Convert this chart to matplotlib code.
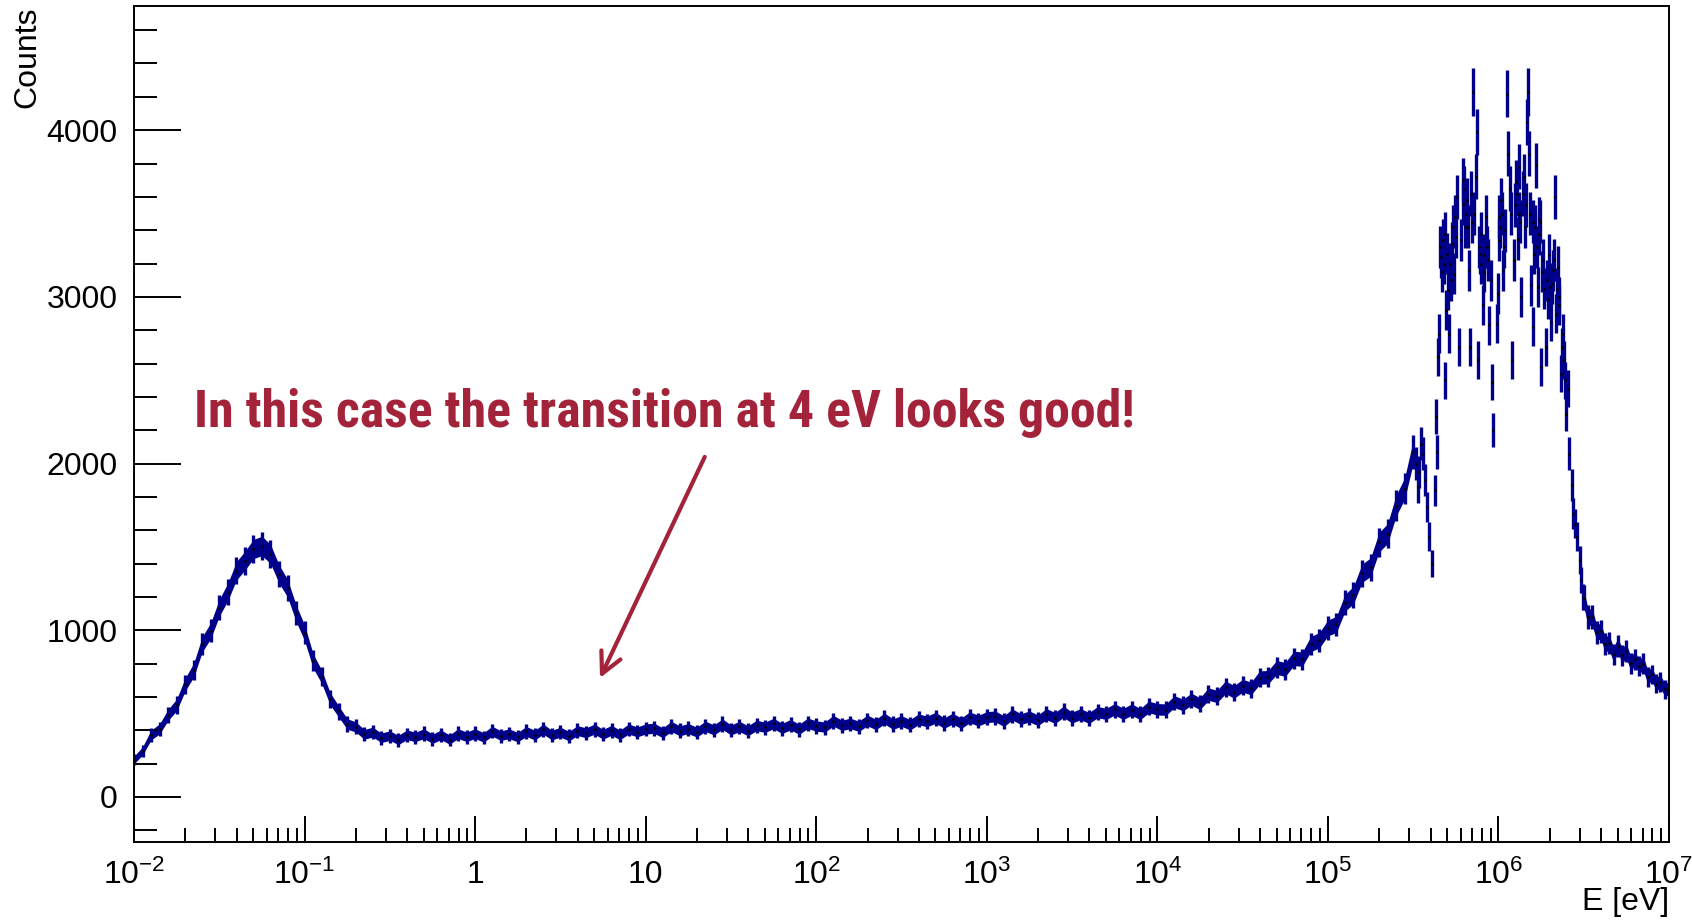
import numpy as np
import matplotlib.pyplot as plt
from matplotlib import font_manager as fm
from matplotlib.ticker import FixedLocator, FixedFormatter, LogLocator, NullFormatter, MultipleLocator

plt.rcParams['font.family'] = ['Liberation Sans', 'DejaVu Sans']
plt.rcParams['mathtext.fontset'] = 'custom'
plt.rcParams['mathtext.rm'] = 'Liberation Sans'
plt.rcParams['mathtext.it'] = 'Liberation Sans:italic'

# histogram bins: log10(E / eV) and counts
log_e_low = np.linspace(-2.0, 5.5, 151)
counts_low = [
    222, 276, 372, 408, 493, 552, 675, 761, 916, 998, 1135, 1230, 1356, 1417, 1487, 1506,
    1458, 1338, 1253, 1103, 985, 816, 722, 589, 513, 438, 420, 376, 389, 355, 368,
    342, 373, 360, 380, 349, 373, 344, 380, 361, 380,
    357, 395, 368, 379, 359, 393, 371, 407, 371, 389, 365, 398, 385, 407, 376, 400, 372, 408, 390, 408,
    412, 385, 423, 397, 410, 389, 424, 402, 437, 402, 423, 397, 429, 418, 441, 411, 434, 406, 442, 426,
    419, 457, 430, 441, 424, 459, 435, 471, 437, 456, 433, 466, 453, 475, 443, 470, 442, 478, 458, 479,
    483, 455, 495, 467, 483, 460, 497, 474, 511, 476, 497, 474, 509, 498, 526, 498, 524, 497, 540, 526,
    524, 572, 552, 586, 560, 617, 603, 658, 630, 667, 651, 716, 719, 777, 765, 831, 827, 918, 940, 1014,
    1035, 1164, 1211, 1342, 1378, 1528, 1580, 1748, 1850, 2070,
]

log_e_peak = [
    5.515, 5.527, 5.535, 5.545, 5.557, 5.568, 5.579, 5.594, 5.608, 5.626, 5.635, 5.640,
    5.644, 5.654, 5.659, 5.664, 5.669, 5.674, 5.680, 5.684, 5.689, 5.693, 5.698, 5.703,
    5.713, 5.718, 5.723, 5.728, 5.733, 5.742, 5.747, 5.752, 5.757, 5.771, 5.781, 5.790,
    5.795, 5.801, 5.806, 5.811, 5.816, 5.821, 5.830, 5.834, 5.840, 5.845, 5.850, 5.859,
    5.868, 5.873, 5.879, 5.884, 5.889, 5.895, 5.900, 5.908, 5.913, 5.918, 5.928, 5.933,
    5.938, 5.947, 5.955, 5.963, 5.971, 5.990, 5.998, 6.001, 6.006, 6.011, 6.016, 6.020,
    6.025, 6.030, 6.038, 6.049, 6.055, 6.065, 6.072, 6.080, 6.094, 6.099, 6.104, 6.108,
    6.113, 6.118, 6.123, 6.128, 6.133, 6.143, 6.148, 6.153, 6.160, 6.166, 6.172, 6.182,
    6.187, 6.192, 6.201, 6.205, 6.211, 6.216, 6.221, 6.226, 6.231, 6.236, 6.240, 6.245,
    6.250, 6.255, 6.260, 6.268, 6.276, 6.282, 6.289, 6.296, 6.303, 6.310, 6.315, 6.319,
    6.325, 6.334, 6.338, 6.343, 6.348, 6.353, 6.358, 6.367, 6.372, 6.377, 6.386, 6.392,
    6.397, 6.405, 6.416, 6.429, 6.440, 6.447, 6.460, 6.476, 6.485, 6.494,
]
counts_peak = [
    2000, 1860, 1950, 2120, 2060, 1900, 1740, 1560, 1400, 1840, 2280, 2070,
    2640, 2780, 3300, 3240, 3150, 3340, 3200, 3380, 2500, 2920, 3260, 3040,
    2780, 3200, 3100, 3320, 3420, 3140, 3480, 3360, 3600, 2700, 3340, 3560,
    3700, 3650, 3420, 3500, 3580, 3420, 3160, 2700, 3620, 3450, 4230, 3500,
    3720, 3990, 2620, 3300, 3260, 3380, 3200, 2950, 3150, 3250, 3480, 3300,
    3220, 2830, 3100, 2490, 2200, 2840, 3020, 3480, 3340, 3420, 3580, 3500,
    3160, 3300, 3400, 4220, 3860, 3650, 3500, 2620, 3220, 3550, 3690, 3620,
    3350, 3780, 3500, 3450, 3000, 3620, 3720, 3420, 3550, 4050, 4230, 3860,
    3500, 3070, 2820, 3450, 3260, 3420, 3790, 3300, 3060, 3380, 3470, 3450,
    2580, 3150, 3220, 3050, 2700, 3100, 2990, 3250, 3060, 2850, 3080, 3160,
    3220, 3600, 2900, 3050, 3180, 2950, 3000, 2540, 2700, 2780, 2620, 2500,
    2300, 2450, 2060, 1870, 1700, 1640, 1560, 1420, 1300, 1200,
]

log_e_tail = [6.500, 6.525, 6.550, 6.575, 6.600, 6.625, 6.650, 6.675, 6.700, 6.725, 6.750,
              6.775, 6.800, 6.825, 6.850, 6.875, 6.900, 6.925, 6.950, 6.975, 7.000]
counts_tail = [1195, 1080, 1078, 988, 995, 918, 923, 855, 908, 850, 875,
               803, 827, 785, 800, 720, 735, 680, 690, 645, 650]

x_ticks = [1e-2, 1e-1, 1, 10, 1e2, 1e3, 1e4, 1e5, 1e6, 1e7]
x_labels = ['$10^{-2}$', '$10^{-1}$', '1', '10', '$10^{2}$', '$10^{3}$',
            '$10^{4}$', '$10^{5}$', '$10^{6}$', '$10^{7}$']
y_ticks = [0, 1000, 2000, 3000, 4000]

note = 'In this case the transition at 4 eV looks good!'
note_pos = (0.0225, 2220)
arrow_tail = (22.2, 2040)
arrow_tip = (5.4, 714)

navy = '#00008b'
wine = '#a3233a'


def narrow_bold_font():
    # the note is set in a narrow bold sans; take the first one installed
    def is_bold(f):
        w = f.weight
        if isinstance(w, str):
            w = fm.weight_dict.get(w, 400)
        return w >= 600

    wanted = ['liberation sans narrow', 'arial narrow', 'roboto condensed',
              'open sans condensed', 'noto sans condensed', 'dejavu sans condensed']
    cands = []
    for f in fm.fontManager.ttflist:
        name = f.name.lower()
        narrow = 'narrow' in name or 'condensed' in name or 'condensed' in str(f.stretch)
        if narrow and is_bold(f) and f.style == 'normal':
            rank = next((i for i, w in enumerate(wanted) if w in name), len(wanted))
            cands.append((rank, f.fname))
    if cands:
        return fm.FontProperties(fname=sorted(cands)[0][1])
    return fm.FontProperties(family='Liberation Sans', weight='bold')


fig = plt.figure(figsize=(16.92, 9.21), dpi=100)
ax = fig.add_axes([0.0792, 0.0858, 0.9072, 0.9077])

segments = [(log_e_low, counts_low, True), (log_e_peak, counts_peak, False), (log_e_tail, counts_tail, True)]
for log_e, counts, solid in segments:
    e = 10 ** np.asarray(log_e)
    n = np.asarray(counts, dtype=float)
    err = 2 * np.sqrt(n)  # weighted entries: error bars about 2*sqrt(N)
    if solid:
        ax.fill_between(e, n - 0.75 * err, n + 0.75 * err, color=navy, lw=0)
    ax.errorbar(e, n, yerr=1.1 * err, fmt='none', ecolor=navy, elinewidth=2.4)
    ax.plot(e, n, ls='none', marker='.', ms=2, color='black')

ax.set_xscale('log')
ax.set_xlim(1e-2, 1e7)
ax.set_ylim(-270, 4745)

ax.xaxis.set_major_locator(FixedLocator(x_ticks))
ax.xaxis.set_major_formatter(FixedFormatter(x_labels))
ax.xaxis.set_minor_locator(LogLocator(base=10, subs=range(2, 10), numticks=100))
ax.xaxis.set_minor_formatter(NullFormatter())
ax.yaxis.set_major_locator(FixedLocator(y_ticks))
ax.yaxis.set_minor_locator(MultipleLocator(200))

ax.tick_params(axis='both', which='both', direction='in', width=1.4, labelsize=23, colors='black')
ax.tick_params(axis='y', which='major', length=34, pad=12)
ax.tick_params(axis='y', which='minor', length=16.5)
ax.tick_params(axis='x', which='major', length=19, pad=13)
ax.tick_params(axis='x', which='minor', length=10)
for sp in ax.spines.values():
    sp.set_linewidth(1.4)

fig.text(0.016, 0.993, 'Counts', rotation=90, ha='center', va='top', fontsize=23)
fig.text(0.9864, 0.021, 'E [eV]', ha='right', va='center', fontsize=23)

note_font = narrow_bold_font()
note_font.set_size(39)
txt = ax.text(note_pos[0], note_pos[1], note, color=wine, fontproperties=note_font,
              va='baseline', ha='left')
# the note spans about 940 px in the reference; shrink the size if the font runs wider
fig.canvas.draw()
w = txt.get_window_extent().width
if w > 960:
    note_font.set_size(39 * 940 / w)
    txt.set_fontproperties(note_font)

ax.annotate('', xy=arrow_tip, xytext=arrow_tail,
            arrowprops=dict(arrowstyle='->,head_length=0.75,head_width=0.38', color=wine,
                            lw=3, mutation_scale=20, shrinkA=0, shrinkB=0))

fig.savefig('out.png', dpi=100)
